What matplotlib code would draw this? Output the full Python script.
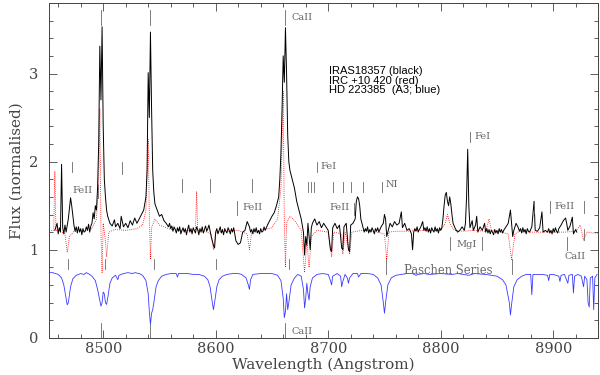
"""CaII triplet region: IRAS18357 vs IRC +10 420 vs HD 223385."""

import matplotlib

matplotlib.use("Agg")
import matplotlib.pyplot as plt
from matplotlib.ticker import MultipleLocator

# IRAS18357 (black)
black_wave = [
    8457, 8459, 8460, 8461, 8462, 8463, 8464, 8465, 8466, 8467, 8469, 8471, 8472, 8474,
    8475, 8476, 8477, 8478, 8479, 8480, 8481, 8482, 8483, 8484, 8485, 8486, 8487, 8488,
    8489, 8490, 8491, 8492, 8493, 8494, 8495, 8496,
    8497, 8498, 8499, 8500, 8501, 8502, 8503, 8504, 8506, 8508, 8510, 8511, 8513, 8515,
    8516, 8518, 8520, 8522, 8524, 8526, 8528, 8530, 8532, 8534, 8536, 8538, 8539, 8540,
    8541, 8542, 8543, 8544, 8545, 8546, 8548, 8550, 8552, 8554, 8556, 8558, 8559, 8560,
    8561, 8562, 8563, 8564, 8565, 8566, 8567, 8568, 8569, 8570, 8571, 8572, 8573, 8574,
    8575, 8576, 8577, 8578, 8579, 8580, 8581, 8582, 8583, 8584, 8585, 8586, 8587, 8588,
    8589, 8590, 8591, 8592, 8593, 8594, 8596, 8598, 8599, 8600, 8601, 8602, 8603, 8604,
    8605, 8606, 8607, 8608, 8609, 8610, 8611, 8612, 8613, 8614, 8615, 8616,
    8618, 8620, 8622, 8624, 8626, 8628, 8630, 8631, 8632, 8633, 8634, 8635, 8636, 8637,
    8638, 8639, 8640, 8641, 8642, 8643, 8644,
    8646, 8648, 8650, 8652, 8654, 8656, 8657, 8658, 8659, 8660, 8661, 8662, 8663, 8664,
    8665, 8666, 8668, 8670, 8672, 8674, 8676, 8678, 8679, 8680, 8681, 8682, 8684, 8685,
    8686, 8688, 8690, 8692, 8694, 8696, 8698, 8700, 8702, 8703, 8704, 8706, 8708, 8710,
    8712, 8713, 8714, 8716, 8718, 8719, 8720, 8722, 8724, 8725, 8726, 8727, 8728, 8729,
    8731, 8732, 8733, 8734, 8735, 8736, 8737, 8738, 8739, 8740, 8741, 8742, 8743, 8744,
    8745, 8746, 8747, 8749, 8750, 8751, 8752, 8753,
    8755, 8757, 8759, 8761, 8763, 8765, 8766, 8768, 8770, 8772, 8774, 8775, 8776, 8777,
    8778, 8779, 8780, 8781, 8782, 8784, 8785, 8786, 8787, 8788, 8789, 8790, 8791, 8792,
    8793, 8794, 8795, 8796, 8797, 8798, 8799, 8800, 8801, 8802, 8803,
    8804, 8805, 8806, 8807, 8808, 8809, 8810, 8811, 8813, 8815, 8817, 8819, 8821, 8822,
    8823, 8824, 8825, 8826, 8828, 8829, 8831, 8832, 8833, 8835, 8837, 8839, 8840, 8841,
    8842, 8843, 8844, 8845, 8846, 8847, 8848, 8849, 8850, 8851, 8852, 8853, 8854, 8855,
    8856, 8858, 8860, 8862, 8863, 8864, 8865, 8867,
    8869, 8870, 8871, 8872, 8873, 8874, 8875, 8876, 8877, 8878, 8879, 8881, 8883, 8884,
    8886, 8888, 8890, 8891, 8893,
    8895, 8896, 8897, 8898, 8899, 8900, 8901, 8902, 8903, 8904, 8905, 8907, 8909, 8911,
    8912, 8913, 8915, 8917, 8918, 8920, 8921,
]
black_flux = [
    1.22, 1.30, 1.18, 1.25, 1.20, 1.97, 1.25, 1.18, 1.28, 1.20, 1.35, 1.59, 1.50, 1.28,
    1.21, 1.26, 1.19, 1.26, 1.20, 1.24, 1.17, 1.24, 1.20, 1.21, 1.26, 1.22, 1.29, 1.20,
    1.27, 1.30, 1.42, 1.35, 1.50, 1.45, 1.70, 2.20,
    3.31, 2.70, 3.53, 2.40, 1.80, 1.60, 1.45, 1.38, 1.30, 1.27, 1.34, 1.26, 1.30, 1.24,
    1.38, 1.26, 1.30, 1.25, 1.33, 1.28, 1.36, 1.30, 1.35, 1.40, 1.45, 1.60, 1.90, 3.01,
    2.50, 3.47, 2.60, 1.90, 1.65, 1.52, 1.45, 1.38, 1.40, 1.33, 1.30, 1.26, 1.30, 1.24,
    1.27, 1.21, 1.26, 1.23, 1.19, 1.25, 1.21, 1.26, 1.18, 1.22, 1.25, 1.20, 1.24, 1.17,
    1.23, 1.28, 1.20, 1.24, 1.18, 1.25, 1.22, 1.19, 1.26, 1.23, 1.17, 1.24, 1.20, 1.26,
    1.19, 1.23, 1.27, 1.21, 1.24, 1.28, 1.15, 1.05, 1.02, 1.20, 1.24, 1.18, 1.22, 1.26,
    1.19, 1.23, 1.17, 1.24, 1.21, 1.19, 1.25, 1.22, 1.18, 1.24, 1.20, 1.25,
    1.10, 1.06, 1.08, 1.20, 1.22, 1.32, 1.26, 1.20, 1.23, 1.18, 1.24, 1.20, 1.25, 1.19,
    1.22, 1.18, 1.24, 1.20, 1.21, 1.26, 1.22,
    1.28, 1.33, 1.38, 1.42, 1.50, 1.60, 1.80, 2.10, 2.60, 3.20, 2.90, 3.52, 3.00, 2.30,
    2.00, 1.90, 1.80, 1.70, 1.55, 1.45, 1.35, 1.20, 0.94, 1.15, 1.05, 1.30, 1.00, 1.25,
    1.30, 1.35, 1.28, 1.32, 1.25, 1.30, 1.26, 1.22, 1.00, 0.98, 1.25, 1.30, 1.24, 1.28,
    1.02, 1.00, 1.26, 1.30, 1.00, 0.98, 1.28, 1.30, 1.35, 1.55, 1.60, 1.58, 1.50, 1.35,
    1.25, 1.20, 1.24, 1.21, 1.26, 1.19, 1.23, 1.20, 1.25, 1.22, 1.18, 1.24, 1.21, 1.25,
    1.20, 1.23, 1.26, 1.30, 1.40, 1.35, 1.15, 1.20,
    1.30, 1.26, 1.32, 1.28, 1.30, 1.43, 1.25, 1.30, 1.22, 1.24, 1.18, 1.00, 1.20, 1.24,
    1.21, 1.26, 1.20, 1.23, 1.25, 1.32, 1.22, 1.25, 1.21, 1.26, 1.20, 1.24, 1.19, 1.25,
    1.22, 1.20, 1.26, 1.21, 1.24, 1.19, 1.25, 1.22, 1.25, 1.35, 1.50,
    1.62, 1.65, 1.55, 1.50, 1.60, 1.52, 1.40, 1.30, 1.24, 1.20, 1.22, 1.26, 1.22, 1.30,
    1.60, 2.14, 1.50, 1.25, 1.33, 1.22, 1.28, 1.38, 1.20, 1.26, 1.22, 1.30, 1.20, 1.24,
    1.19, 1.23, 1.18, 1.22, 1.20, 1.17, 1.23, 1.19, 1.22, 1.18, 1.24, 1.20, 1.23, 1.19,
    1.22, 1.26, 1.30, 1.45, 1.30, 1.15, 1.22, 1.30,
    1.25, 1.21, 1.24, 1.19, 1.25, 1.20, 1.23, 1.18, 1.24, 1.21, 1.20, 1.26, 1.55, 1.22,
    1.21, 1.25, 1.43, 1.20, 1.22,
    1.20, 1.24, 1.19, 1.22, 1.18, 1.24, 1.20, 1.25, 1.21, 1.19, 1.24, 1.28, 1.33, 1.36,
    1.30, 1.22, 1.27, 1.37, 1.18, 1.23, 1.20,
]

# IRC +10 420 (red, dotted)
red_wave = [
    8452, 8456, 8457, 8458, 8462, 8466, 8468, 8470, 8474, 8480, 8486, 8490, 8494, 8496,
    8497, 8498, 8499, 8500, 8502, 8503, 8505, 8510, 8520, 8530, 8535, 8538, 8540, 8541,
    8542, 8543, 8546, 8550, 8560, 8570, 8580, 8582, 8583, 8584, 8590, 8596, 8598, 8600,
    8610, 8620, 8628, 8630, 8632, 8640, 8650, 8655, 8658, 8660, 8661, 8662, 8663, 8666,
    8668, 8672, 8676, 8679, 8681, 8683, 8685, 8690, 8700, 8703, 8705, 8712, 8713, 8715,
    8719, 8721, 8730, 8740, 8750, 8752, 8754, 8760, 8770, 8780, 8790, 8800, 8804, 8806,
    8808, 8812, 8820, 8830, 8840, 8843, 8845, 8850, 8860, 8863, 8866, 8870, 8880, 8890,
    8900, 8910, 8920, 8924, 8927, 8930, 8935, 8940,
]
red_flux = [
    1.22, 1.22, 1.89, 1.22, 1.21, 1.18, 0.97, 1.15, 1.21, 1.21, 1.22, 1.24, 1.35, 1.80,
    2.60, 1.20, 0.74, 1.30, 1.10, 0.92, 1.20, 1.23, 1.22, 1.24, 1.28, 1.45, 2.25, 1.40,
    0.89, 1.25, 1.35, 1.28, 1.23, 1.22, 1.22, 1.22, 1.66, 1.22, 1.21, 1.18, 1.00, 1.20,
    1.21, 1.22, 1.18, 1.00, 1.20, 1.22, 1.25, 1.35, 1.70, 2.80, 1.30, 0.80, 1.30, 1.38,
    1.36, 1.30, 1.22, 0.74, 1.10, 0.80, 1.15, 1.22, 1.20, 0.92, 1.20, 1.18, 0.95, 1.20,
    0.95, 1.20, 1.22, 1.21, 1.18, 0.89, 1.20, 1.21, 1.21, 1.22, 1.22, 1.22, 1.30, 1.40,
    1.30, 1.22, 1.21, 1.22, 1.21, 1.35, 1.22, 1.21, 1.18, 0.89, 1.18, 1.21, 1.20, 1.20,
    1.20, 1.20, 1.21, 1.28, 1.11, 1.20, 1.19, 1.19,
]

# HD 223385 (A3, blue)
blue_wave = [
    8452, 8455, 8460, 8463, 8465, 8467, 8468, 8469, 8471, 8473, 8476, 8480, 8483, 8485,
    8488, 8490, 8493, 8495, 8497, 8498, 8499, 8500, 8501, 8502, 8503, 8504, 8506, 8508,
    8511, 8513, 8514, 8518, 8522, 8526, 8528, 8532, 8535, 8538, 8540, 8541, 8542, 8543,
    8544, 8545, 8547, 8549, 8552, 8556, 8560, 8565, 8566, 8567, 8575, 8580, 8585, 8590,
    8593, 8595, 8597, 8598, 8599, 8601, 8603, 8606, 8610, 8615, 8620, 8623, 8625, 8627,
    8629, 8630, 8631, 8633, 8640, 8650, 8655, 8658, 8660, 8661, 8662, 8663, 8664, 8665,
    8667, 8670, 8673, 8676, 8678, 8679, 8680, 8681, 8682, 8683, 8684, 8686, 8690, 8695,
    8700, 8702, 8703, 8704, 8708, 8711, 8712, 8713, 8715, 8717, 8718, 8719, 8722, 8726,
    8727, 8729, 8735, 8740, 8744, 8747, 8749, 8750, 8751, 8753, 8756, 8760, 8765, 8770,
    8775, 8778, 8780, 8785, 8790, 8800, 8810, 8815, 8820, 8825, 8830, 8840, 8845, 8850,
    8855, 8858, 8861, 8862, 8863, 8865, 8868, 8872, 8876, 8880, 8881, 8882, 8890, 8895,
    8896, 8897, 8900, 8905, 8906, 8907, 8910, 8913, 8914, 8917, 8918, 8919, 8922, 8925,
    8927, 8928, 8930, 8931, 8932, 8933, 8935, 8936, 8937, 8939,
]
blue_flux = [
    0.74, 0.74, 0.72, 0.68, 0.60, 0.45, 0.375, 0.40, 0.58, 0.67, 0.71, 0.73, 0.72, 0.74,
    0.72, 0.70, 0.65, 0.55, 0.42, 0.36, 0.40, 0.52, 0.50, 0.40, 0.38, 0.45, 0.62, 0.68,
    0.71, 0.66, 0.71, 0.73, 0.74, 0.73, 0.74, 0.73, 0.71, 0.65, 0.50, 0.30, 0.15, 0.28,
    0.32, 0.40, 0.58, 0.65, 0.70, 0.72, 0.73, 0.73, 0.69, 0.73, 0.73, 0.72, 0.72, 0.70,
    0.66, 0.58, 0.40, 0.32, 0.40, 0.58, 0.66, 0.70, 0.72, 0.73, 0.73, 0.72, 0.70, 0.68,
    0.60, 0.55, 0.66, 0.72, 0.73, 0.73, 0.71, 0.65, 0.45, 0.23, 0.30, 0.50, 0.32, 0.40,
    0.60, 0.68, 0.72, 0.70, 0.55, 0.34, 0.45, 0.62, 0.50, 0.43, 0.58, 0.68, 0.72, 0.73,
    0.72, 0.65, 0.60, 0.70, 0.73, 0.70, 0.58, 0.64, 0.72, 0.68, 0.62, 0.68, 0.73, 0.73,
    0.69, 0.73, 0.73, 0.72, 0.68, 0.60, 0.40, 0.28, 0.40, 0.60, 0.68, 0.71, 0.72, 0.73,
    0.73, 0.71, 0.72, 0.73, 0.72, 0.73, 0.72, 0.73, 0.72, 0.71, 0.73, 0.72, 0.71, 0.70,
    0.66, 0.60, 0.40, 0.26, 0.38, 0.58, 0.66, 0.70, 0.72, 0.72, 0.49, 0.72, 0.72, 0.71,
    0.65, 0.72, 0.72, 0.70, 0.64, 0.71, 0.72, 0.62, 0.71, 0.72, 0.51, 0.70, 0.72, 0.70,
    0.58, 0.70, 0.66, 0.40, 0.35, 0.68, 0.70, 0.32, 0.68, 0.72,
]

# line identifications: (wavelength, bottom, top) of each tick mark
id_marks = [
    (8498, 3.55, 3.72), (8542, 3.55, 3.72), (8662, 3.55, 3.72),
    (8472, 1.88, 2.00), (8517, 1.86, 2.00),
    (8495, 1.59, 1.74),
    (8570, 1.66, 1.80), (8595, 1.66, 1.80), (8632, 1.66, 1.80),
    (8619, 1.40, 1.55),
    (8690, 1.88, 2.00),
    (8682, 1.66, 1.77), (8685, 1.66, 1.77), (8687, 1.66, 1.77), (8704, 1.66, 1.77),
    (8713, 1.66, 1.77), (8720, 1.66, 1.77), (8731, 1.66, 1.77), (8748, 1.66, 1.77),
    (8723, 1.40, 1.53),
    (8826, 2.22, 2.34),
    (8808, 1.00, 1.15), (8837, 1.00, 1.15),
    (8883, 1.42, 1.55), (8897, 1.42, 1.55), (8927, 1.42, 1.55),
    (8912, 1.00, 1.15), (8927, 1.11, 1.23),
    (8469, 0.78, 0.90), (8502, 0.78, 0.90), (8545, 0.78, 0.90), (8600, 0.78, 0.90),
    (8665, 0.78, 0.90), (8751, 0.72, 0.90), (8863, 0.72, 0.90),
    (8498, 0.01, 0.17), (8542, 0.01, 0.17), (8662, 0.01, 0.17),
]
# labels: (wavelength, flux, text)
id_labels = [
    (8667, 3.64, "CaII"), (8473, 1.67, "FeII"), (8624, 1.48, "FeII"),
    (8693, 1.94, "FeI"), (8701, 1.48, "FeII"), (8751, 1.74, "NI"),
    (8830, 2.28, "FeI"), (8814, 1.06, "MgI"), (8901, 1.49, "FeII"),
    (8910, 0.92, "CaII"), (8767, 0.77, "Paschen Series"), (8667, 0.07, "CaII"),
]
legend_lines = ["IRAS18357 (black)", "IRC +10 420 (red)", "HD 223385  (A3; blue)"]

AXIS_GREY = "#444444"
ID_GREY = "#666666"

fig = plt.figure(figsize=(6, 3.75), dpi=100)
ax = fig.add_axes([0.082, 0.099, 0.915, 0.893])

ax.plot(blue_wave, blue_flux, color="#3a3aff", lw=0.6)
ax.plot(red_wave, red_flux, color="red", lw=0.6, ls=(0, (1, 1.5)))
ax.plot(black_wave, black_flux, color="black", lw=0.7)

for w, lo, hi in id_marks:
    ax.plot([w, w], [lo, hi], color=ID_GREY, lw=0.6)
for w, f, txt in id_labels:
    size = 8.3 if txt.startswith("Paschen") else 7
    ax.text(w, f, txt, fontsize=size, color=ID_GREY, family="DejaVu Serif",
            va="center", ha="left")

for i, txt in enumerate(legend_lines):
    ax.text(8701, 3.03 - i * 0.11, txt, fontsize=8, family="Liberation Sans",
            va="center", ha="left")

ax.set_xlim(8452, 8940)
ax.set_ylim(0, 3.8)
ax.xaxis.set_major_locator(MultipleLocator(100))
ax.xaxis.set_minor_locator(MultipleLocator(20))
ax.yaxis.set_major_locator(MultipleLocator(1))
ax.yaxis.set_minor_locator(MultipleLocator(0.2))
ax.tick_params(which="both", direction="in", top=True, right=True,
               colors=AXIS_GREY, labelcolor=AXIS_GREY, width=0.6)
ax.tick_params(which="major", length=6, labelsize=10.5)
ax.tick_params(axis="x", which="major", pad=3)
ax.tick_params(axis="y", which="major", pad=8)
ax.tick_params(which="minor", length=3)
for lab in ax.get_xticklabels() + ax.get_yticklabels():
    lab.set_family("DejaVu Serif")
for sp in ax.spines.values():
    sp.set_color(AXIS_GREY)
    sp.set_linewidth(0.7)

ax.set_xlabel("Wavelength (Angstrom)", fontsize=11, family="DejaVu Serif",
              color=AXIS_GREY, labelpad=1)
ax.set_ylabel("Flux (normalised)", fontsize=11, family="DejaVu Serif",
              color=AXIS_GREY, labelpad=4)

fig.savefig("out.png", dpi=100)
plt.close(fig)
